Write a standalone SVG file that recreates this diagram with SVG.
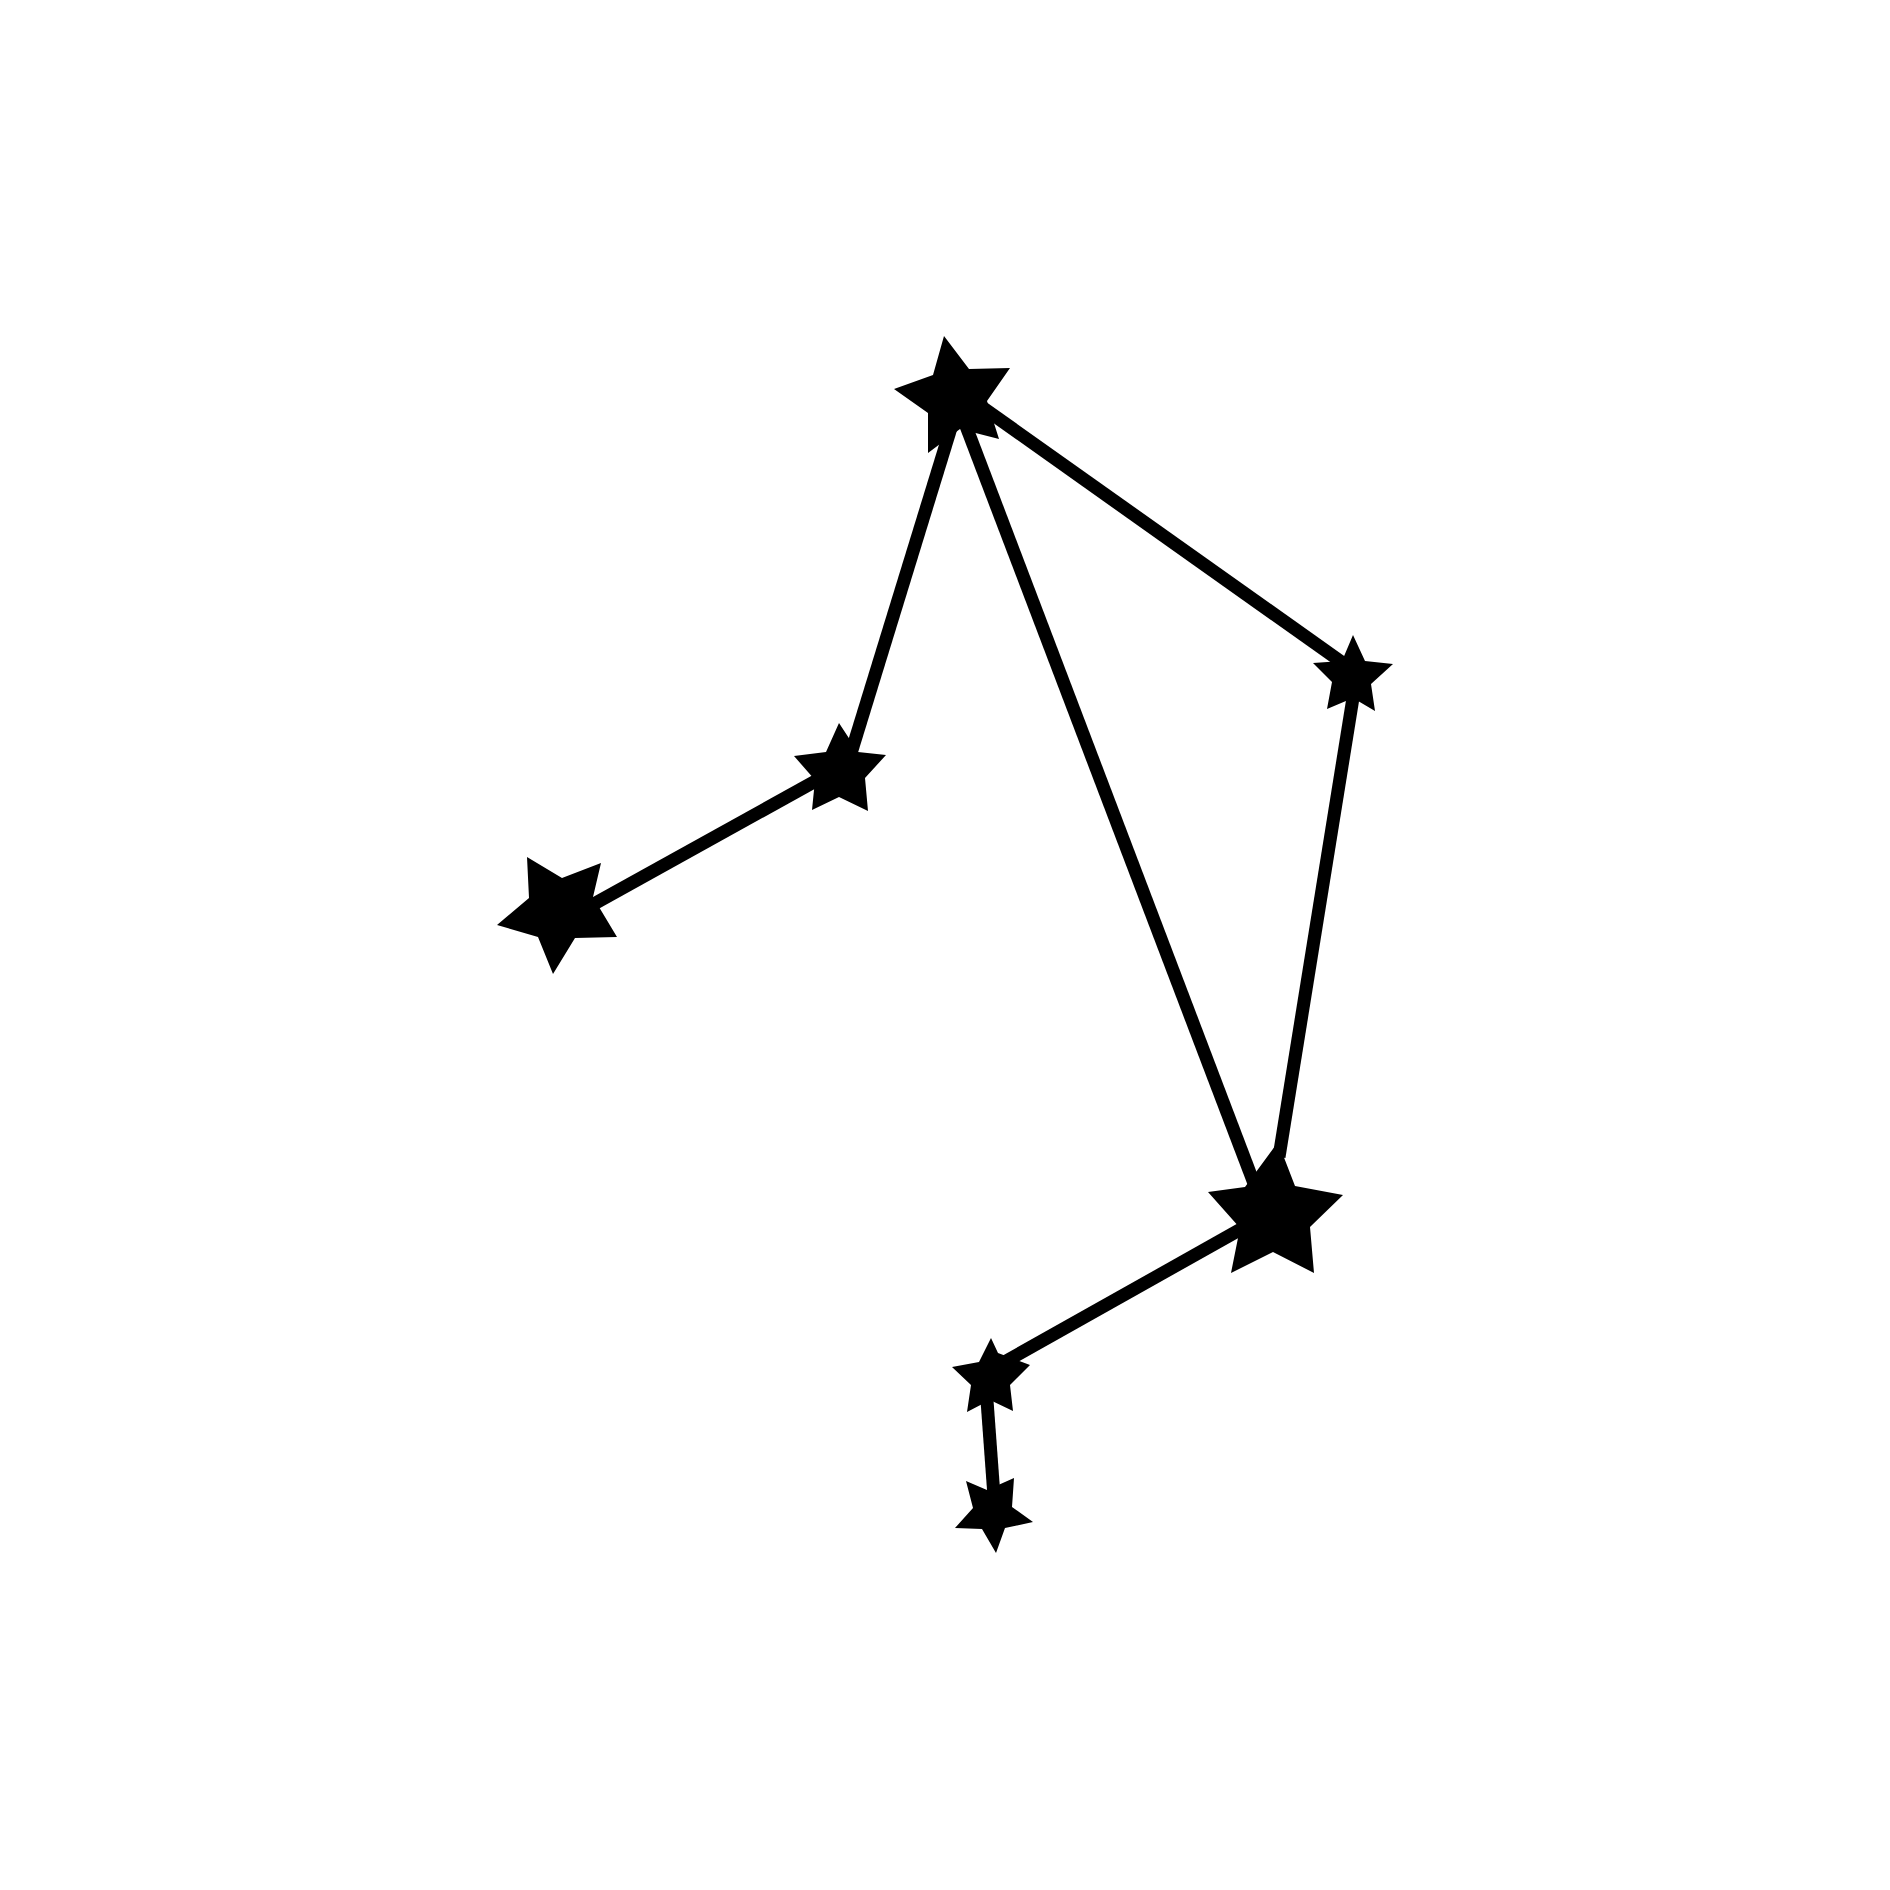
<svg xmlns="http://www.w3.org/2000/svg" width="1890" height="1890" viewBox="0 0 1890 1890">
<style>
.link{stroke:#000;stroke-width:13;fill:none;stroke-linecap:butt}
.star{fill:#000;stroke:none}
</style>
<rect width="1890" height="1890" fill="#fff"/>
<g id="connectors">
<line class="link" x1="958" y1="405" x2="848" y2="763"/>
<line class="link" x1="958" y1="405" x2="1266" y2="1215"/>
<line class="link" x1="958" y1="390" x2="1357" y2="673"/>
<line class="link" x1="1357" y1="673" x2="1279" y2="1157"/>
<line class="link" x1="1266" y1="1215" x2="985" y2="1373"/>
<line class="link" x1="985" y1="1373" x2="995" y2="1510"/>
<line class="link" x1="848" y1="763" x2="565" y2="920"/>
</g>
<g id="star-top"><polygon class="star" points="944,336 969,369 1010,368 987,401 999,439 960,429 928,453 928,413 894,389 933,375"/></g>
<g id="star-right"><polygon class="star" points="1353,635 1365,661 1393,664 1371,684 1375,711 1353,698 1327,709 1332,682 1313,663 1342,661"/></g>
<g id="star-midleft"><polygon class="star" points="839,723 858,752 886,755 865,778 868,811 839,797 812,810 815,780 794,756 826,752"/></g>
<g id="star-left"><polygon class="star" points="527,857 562,878 601,863 593,897 617,937 575,938 553,974 538,937 497,925 529,898"/></g>
<g id="star-big"><polygon class="star" points="1278,1142 1295,1186 1343,1195 1310,1227 1314,1273 1273,1252 1231,1273 1240,1228 1208,1192 1245,1187"/></g>
<g id="star-lower"><polygon class="star" points="991,1338 998,1353 1030,1365 1010,1385 1013,1411 990,1400 967,1412 971,1385 952,1367 979,1362"/></g>
<g id="star-bottom"><polygon class="star" points="966,1481 987,1490 1014,1478 1012,1507 1033,1522 1005,1528 996,1553 982,1529 955,1528 973,1508"/></g>
</svg>
